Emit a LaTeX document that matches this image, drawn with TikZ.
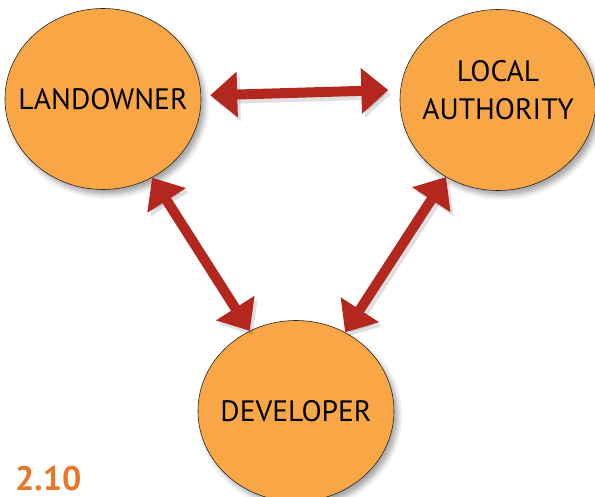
\documentclass[tikz,border=0pt]{standalone}
\usepackage{fontspec}
\newfontfamily\labelfont{PT Sans}
\usetikzlibrary{arrows.meta,shapes.geometric,shadows.blur}
\definecolor{partyfill}{HTML}{F9A647}
\definecolor{linkred}{HTML}{B3271E}
\definecolor{figorange}{HTML}{E8772A}

\begin{document}
\begin{tikzpicture}[x=1pt,y=-1pt,
    party/.style={ellipse, draw=black!85, line width=0.6pt, fill=partyfill,
      minimum width=196pt, minimum height=181pt, align=center,
      inner xsep=-30pt, inner ysep=0pt,
      font=\labelfont\fontsize{29.5}{38}\selectfont,
      blur shadow={shadow xshift=4pt, shadow yshift=-5pt,
        shadow blur radius=5pt, shadow opacity=35}},
    link/.style={draw=linkred, line width=10pt,
      {Triangle[length=27pt,width=44pt]}-{Triangle[length=27pt,width=44pt]}},
    linkshadow/.style={link, draw=black, opacity=0.12,
      transform canvas={shift={(3pt,-4pt)}}}]
  \useasboundingbox (0,0) rectangle (595,497);

  \node[party] (land) at (103,99) {LANDOWNER};
  \node[party, text depth=19pt] (local) at (498,100) {LOCAL\\AUTHORITY};
  \node[party] (dev) at (296,411) {DEVELOPER};

  % shadows of the arrows
  \draw[linkshadow, shorten <=9pt, shorten >=12pt] (land.2) -- (local.174);
  \draw[linkshadow] (land.-58) -- (dev.120);
  \draw[linkshadow] (local.236) -- (dev.58);

  \draw[link, shorten <=9pt, shorten >=12pt] (land.2) -- (local.174);
  \draw[link] (land.-58) -- (dev.120);
  \draw[link] (local.236) -- (dev.58);

  \node[anchor=base west, inner sep=0pt, text=figorange,
    font=\labelfont\bfseries\fontsize{34}{34}\selectfont] (fig) at (15,490) {2.10};
\end{tikzpicture}
\end{document}
